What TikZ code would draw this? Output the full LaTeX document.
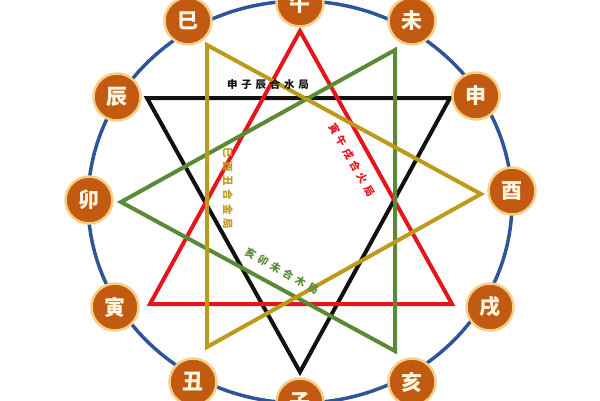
\documentclass[tikz,border=0pt]{standalone}
\usepackage{fontspec}
\newfontfamily\cjk{Noto Sans CJK SC}
\newfontfamily\cjklab[LetterSpace=36]{Noto Sans CJK SC}
\definecolor{ringblue}{HTML}{2E5597}
\definecolor{nodefill}{HTML}{C25A12}
\definecolor{nodeglow}{HTML}{F6CF86}
\definecolor{nodetext}{HTML}{FFF6E2}
\definecolor{trired}{HTML}{E4161B}
\definecolor{trigreen}{HTML}{5A8A36}
\definecolor{trigold}{HTML}{BE9A1C}
\definecolor{triblack}{HTML}{111111}
\tikzset{
  branch/.style={circle, fill=nodefill, draw=nodeglow, line width=2.5pt,
    minimum size=47pt, inner sep=0pt, text=nodetext,
    font=\cjk\bfseries\fontsize{21}{21}\selectfont},
  tri/.style={line width=4pt, miter limit=10},
  lab/.style={inner sep=0pt, font=\cjklab\bfseries\fontsize{10.5}{10.5}\selectfont}
}
\begin{document}
\begin{tikzpicture}[x=1pt,y=-1pt]
\useasboundingbox (0,0) rectangle (600,400);
% outer ring
\draw[ringblue, line width=3.5pt] (300,202) ellipse [x radius=212, y radius=201];
% triangle vertices
\coordinate (r1) at (300,31);
\coordinate (r2) at (150,304);
\coordinate (r3) at (452,304);
\coordinate (k1) at (147,98);
\coordinate (k2) at (450,98);
\coordinate (k3) at (300,372);
\coordinate (g1) at (121,202);
\coordinate (g2) at (395,50);
\coordinate (g3) at (395,351);
\coordinate (y1) at (207,45);
\coordinate (y2) at (481,194);
\coordinate (y3) at (207,347);
% triangles
\draw[tri, triblack] (k1) -- (k2) -- (k3) -- cycle;
\draw[tri, trired] (r1) -- (r2) -- (r3) -- cycle;
\draw[tri, trigreen] (g1) -- (g2) -- (g3) -- cycle;
\draw[tri, trigold] (y1) -- (y2) -- (y3) -- cycle;
% branch nodes
\node[branch] (wu)   at (300,3)   {午};
\node[branch] (wei)  at (412,21)  {未};
\node[branch] (shen) at (476,96)  {申};
\node[branch] (you)  at (512,191) {酉};
\node[branch] (xu)   at (490,307) {戌};
\node[branch] (hai)  at (412,382) {亥};
\node[branch] (zi)   at (300,402) {子};
\node[branch] (chou) at (193,382) {丑};
\node[branch] (yin)  at (115,307) {寅};
\node[branch] (mao)  at (89,200)  {卯};
\node[branch] (chen) at (117,97)  {辰};
\node[branch] (si)   at (188,21)  {巳};
% labels
\node[lab, text=triblack] (lk) at (268,85) {申子辰合水局};
\node[lab, text=trired, rotate=-60] (lr) at (352,160) {寅午戌合火局};
\node[lab, text=trigold, rotate=-90] (ly) at (228,188) {巳酉丑合金局};
\node[lab, text=trigreen, rotate=-29] (lg) at (282,271) {亥卯未合木局};
\end{tikzpicture}
\end{document}
